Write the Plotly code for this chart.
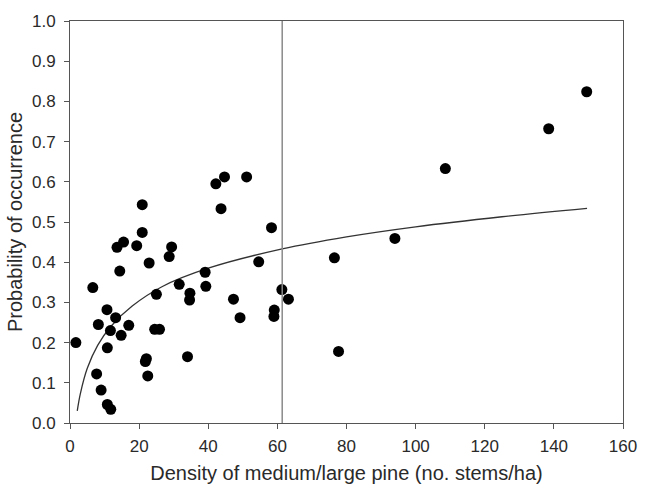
import plotly.graph_objects as go

# Observed sites: pine density (stems/ha) vs probability of occurrence
density = [1.7, 6.6, 7.7, 8.2, 9.0, 10.7, 10.8, 10.8, 11.8, 11.7,
           13.2, 13.6, 14.4, 14.8, 15.5, 17.0, 19.3, 22.9, 22.1, 21.8,
           22.5, 25.0, 24.5, 25.9, 20.9, 20.9, 29.4, 28.7, 42.2, 44.7,
           43.7, 39.1, 39.3, 31.6, 34.7, 34.6, 47.3, 34.0, 51.1, 58.3,
           54.6, 61.3, 63.2, 49.2, 59.1, 59.0, 149.5, 138.5, 108.6, 94.0,
           76.5, 77.7]
probability = [0.200, 0.337, 0.122, 0.245, 0.082, 0.282, 0.187, 0.046, 0.034, 0.230,
               0.262, 0.437, 0.378, 0.218, 0.450, 0.243, 0.441, 0.398, 0.160, 0.153,
               0.117, 0.320, 0.233, 0.233, 0.543, 0.474, 0.438, 0.414, 0.595, 0.612,
               0.533, 0.375, 0.340, 0.345, 0.323, 0.306, 0.308, 0.165, 0.612, 0.486,
               0.401, 0.332, 0.308, 0.262, 0.281, 0.265, 0.824, 0.732, 0.633, 0.459,
               0.411, 0.178]

# Fitted response curve
fit_x = [2.1, 3, 5, 8, 12, 18, 26.6, 40, 61.4, 80, 100, 125, 149.6]
fit_y = [0.030, 0.073, 0.136, 0.193, 0.242, 0.291, 0.339, 0.385, 0.433, 0.463, 0.488, 0.513, 0.534]

# Threshold density
threshold = 61.4

x_ticks = [0, 20, 40, 60, 80, 100, 120, 140, 160]
y_ticks = [0.0, 0.1, 0.2, 0.3, 0.4, 0.5, 0.6, 0.7, 0.8, 0.9, 1.0]

fig = go.Figure()
fig.add_trace(go.Scatter(
    x=fit_x, y=fit_y, mode="lines",
    line=dict(color="#333333", width=1.3, shape="spline"),
    hoverinfo="skip", showlegend=False,
))
fig.add_trace(go.Scatter(
    x=density, y=probability, mode="markers",
    marker=dict(color="black", size=11),
    showlegend=False,
))
fig.add_shape(type="line", x0=threshold, x1=threshold, y0=0, y1=1,
              xref="x", yref="y", line=dict(color="#8a8a8a", width=1.5))

axis_font = dict(family="Liberation Sans, Arial, sans-serif", size=17, color="#2a2a2a")
fig.update_layout(
    width=649, height=493,
    margin=dict(l=70, r=13, t=16, b=70),
    paper_bgcolor="white", plot_bgcolor="white",
    font=axis_font,
    xaxis=dict(
        range=[0, 160], tickvals=x_ticks, ticks="outside", ticklen=5,
        tickcolor="#555555", showline=True, linecolor="#555555", linewidth=1,
        mirror=True, showgrid=False, zeroline=False, ticklabelstandoff=3,
        ticklabeloverflow="allow",
        title=dict(text="Density of medium/large pine (no. stems/ha)",
                   font=dict(size=20), standoff=10),
    ),
    yaxis=dict(
        range=[0, 1.0], tickvals=y_ticks, tickformat=".1f", ticks="outside",
        ticklen=5, tickcolor="#555555", showline=True, linecolor="#555555",
        linewidth=1, mirror=True, showgrid=False, zeroline=False,
        ticklabelstandoff=5,
        title=dict(text="Probability of occurrence", font=dict(size=20), standoff=3),
    ),
)

fig.write_html("out.html")
